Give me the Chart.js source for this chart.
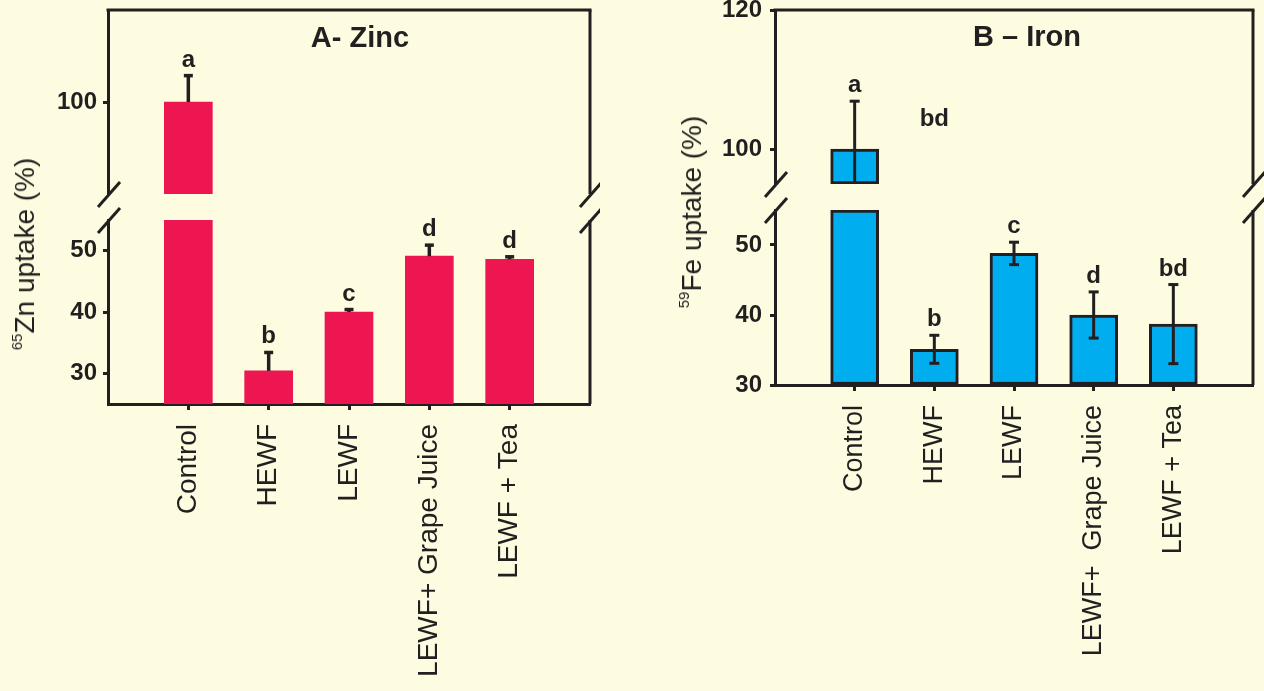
<!DOCTYPE html>
<html><head><meta charset="utf-8">
<script src="https://cdn.jsdelivr.net/npm/chart.js@4.4.1/dist/chart.umd.min.js"></script>
<style>
html,body{margin:0;padding:0;background:#FEFCE0;}
#wrap{position:relative;width:1264px;height:691px;overflow:hidden;background:#FEFCE0;font-family:'Liberation Sans',Arial,Helvetica,sans-serif;color:#231F20;}
canvas{position:absolute;}
.title{position:absolute;font-weight:bold;font-size:29px;transform:translate(-50%,-50%);white-space:nowrap;}
.ytitle{position:absolute;font-size:28px;transform:translate(-50%,-50%) rotate(-90deg);white-space:nowrap;}
.ytitle span{font-size:15px;position:relative;top:-12px;}
</style>
</head><body>
<div id="wrap">
  <canvas id="zincUpper" width="600" height="215" style="left:0;top:0"></canvas>
  <canvas id="zincLower" width="600" height="491" style="left:0;top:200px"></canvas>
  <canvas id="ironUpper" width="604" height="215" style="left:660px;top:0"></canvas>
  <canvas id="ironLower" width="604" height="501" style="left:660px;top:190px"></canvas>
  <div class="title" style="left:360px;top:37px">A- Zinc</div>
  <div class="title" style="left:1027px;top:36px">B – Iron</div>
  <div class="ytitle" style="left:25px;top:254px"><span>65</span>Zn uptake (%)</div>
  <div class="ytitle" style="left:692px;top:212px"><span>59</span>Fe uptake (%)</div>
</div>
<script>
// ---- data ----
const zincCategories = ['Control', 'HEWF', 'LEWF', 'LEWF+ Grape Juice', 'LEWF + Tea'];
const ironCategories = ['Control', 'HEWF', 'LEWF', 'LEWF+  Grape Juice', 'LEWF + Tea'];
const zincValues = [100, 30.4, 40.0, 49.1, 48.6];
const zincErrors = [4.3, 3.0, 0.4, 1.8, 0.4];
const zincLetters = ['a', 'b', 'c', 'd', 'd'];
const ironValues = [100, 35.1, 48.8, 40.0, 38.7];
const ironErrors = [6.9, 2.0, 1.6, 3.3, 5.65];
const ironLetters = ['a', 'b', 'c', 'd', 'bd'];
const ironExtraLabels = [{ category: 'HEWF', value: 103.3, text: 'bd' }];
const zincUpperTicks = [100];
const zincLowerTicks = [30, 40, 50];
const ironUpperTicks = [100, 120];
const ironLowerTicks = [30, 40, 50];
const zincUpperRange = [85, 115];
const zincLowerRange = [25, 55];
const ironUpperRange = [95, 120];
const ironLowerRange = [30, 55];

// ---- drawing ----
const INK = '#231F20';
const FONT = "'Liberation Sans', Arial, Helvetica, sans-serif";

const framePlugin = {
  id: 'frame',
  afterDraw(chart, args, o) {
    const { ctx, chartArea: a } = chart;
    ctx.save();
    ctx.strokeStyle = INK; ctx.lineWidth = 3; ctx.lineCap = 'butt';
    const seg = (x1, y1, x2, y2) => { ctx.beginPath(); ctx.moveTo(x1, y1); ctx.lineTo(x2, y2); ctx.stroke(); };
    if (o.top) seg(a.left - 1.5, a.top, a.right + 1.5, a.top);
    if (o.right) seg(a.right, a.top, a.right, a.bottom);
    if (o.breaks) {
      const y = o.breaks === 'bottom' ? a.bottom : a.top;
      [a.left, a.right].forEach(x => seg(x - 10, y + 13, x + 12, y - 12));
    }
    ctx.restore();
  }
};

const errorPlugin = {
  id: 'errBars',
  afterDatasetsDraw(chart, args, o) {
    const { ctx, chartArea: a } = chart;
    const xs = chart.scales.x, ys = chart.scales.y;
    ctx.save();
    ctx.beginPath(); ctx.rect(a.left, a.top, a.right - a.left, a.bottom - a.top); ctx.clip();
    ctx.strokeStyle = INK; ctx.lineWidth = o.width; ctx.lineCap = 'butt';
    o.values.forEach((v, i) => {
      const x = xs.getPixelForValue(i + 1);
      const hi = ys.getPixelForValue(v + o.errors[i]);
      const lo = ys.getPixelForValue(o.both ? v - o.errors[i] : v);
      ctx.beginPath(); ctx.moveTo(x, hi); ctx.lineTo(x, lo); ctx.stroke();
      ctx.beginPath(); ctx.moveTo(x - o.cap, hi); ctx.lineTo(x + o.cap, hi); ctx.stroke();
      if (o.both) { ctx.beginPath(); ctx.moveTo(x - o.cap, lo); ctx.lineTo(x + o.cap, lo); ctx.stroke(); }
    });
    ctx.restore();
  },
  afterDraw(chart, args, o) {
    const { ctx } = chart;
    const xs = chart.scales.x, ys = chart.scales.y;
    ctx.save();
    ctx.fillStyle = INK; ctx.font = 'bold 24px ' + FONT;
    ctx.textAlign = 'center'; ctx.textBaseline = 'alphabetic';
    o.values.forEach((v, i) => {
      const top = v + o.errors[i];
      if (top < ys.min || top > ys.max) return;
      ctx.fillText(o.letters[i], xs.getPixelForValue(i + 1), ys.getPixelForValue(top) - 9);
    });
    (o.extra || []).forEach(e => {
      if (e.value < ys.min || e.value > ys.max) return;
      ctx.fillText(e.text, xs.getPixelForValue(o.categories.indexOf(e.category) + 1), ys.getPixelForValue(e.value));
    });
    ctx.restore();
  }
};

function panel(id, p) {
  const labels = ['', ...p.categories, ''];
  const n = labels.length;
  const data = [null, ...p.values.map(v => p.part === 'upper' ? (v > p.range[0] ? v : null) : Math.min(v, p.range[1])), null];
  return new Chart(document.getElementById(id), {
    type: 'bar',
    data: { labels, datasets: [{
      data, backgroundColor: p.color, borderColor: INK, borderWidth: p.border,
      borderSkipped: false, barThickness: 48, base: p.range[0]
    }] },
    options: {
      responsive: false, animation: false, events: [],
      layout: { padding: p.padding },
      plugins: {
        legend: { display: false }, tooltip: { enabled: false },
        frame: { top: p.part === 'upper', right: true, breaks: p.part === 'upper' ? 'bottom' : 'top' },
        errBars: { values: p.values, errors: p.errors, letters: p.letters, both: p.both, cap: p.cap,
                   width: p.errWidth, extra: p.extra, categories: p.categories }
      },
      scales: {
        x: {
          type: 'category', offset: false, display: p.part === 'lower',
          grid: { offset: false, drawOnChartArea: false, drawTicks: true, tickLength: 6, tickWidth: 3,
                  tickColor: c => (c.index === 0 || c.index === n - 1) ? 'rgba(0,0,0,0)' : INK },
          border: { display: true, color: INK, width: 3 },
          ticks: { autoSkip: false, maxRotation: 90, minRotation: 90, padding: 14, color: INK,
                   font: { family: FONT, size: p.xFont } },
          afterFit: s => { s.height = p.xHeight || s.height; s.paddingLeft = 0; s.paddingRight = 0; }
        },
        y: {
          type: 'linear', min: p.range[0], max: p.range[1],
          afterBuildTicks: s => { s.ticks = p.ticks.map(v => ({ value: v })); },
          grid: { drawOnChartArea: false, drawTicks: true, tickLength: 5, tickWidth: 3, tickColor: INK },
          border: { display: true, color: INK, width: 3 },
          ticks: { padding: p.tickPad, color: INK, font: { family: FONT, size: 24, weight: 'bold' } },
          afterFit: s => { s.width = p.yWidth; s.paddingTop = 0; s.paddingBottom = 0; }
        }
      }
    },
    plugins: [framePlugin, errorPlugin]
  });
}

const zincCommon = { categories: zincCategories, values: zincValues, errors: zincErrors, letters: zincLetters,
  color: '#ED1651', border: 0, both: false, cap: 4.5, errWidth: 3.5, yWidth: 108, tickPad: 6, xFont: 28 };
const ironCommon = { categories: ironCategories, values: ironValues, errors: ironErrors, letters: ironLetters,
  color: '#00AEEF', border: 3, both: true, cap: 5, errWidth: 3, yWidth: 115, tickPad: 8, extra: ironExtraLabels, xFont: 27 };

panel('zincUpper', { ...zincCommon, part: 'upper', range: zincUpperRange, ticks: zincUpperTicks,
  padding: { top: 10, right: 10, bottom: 21, left: 0 } });
panel('zincLower', { ...zincCommon, part: 'lower', range: zincLowerRange, ticks: zincLowerTicks,
  padding: { top: 20, right: 10, bottom: 0, left: 0 }, xHeight: 287 });
panel('ironUpper', { ...ironCommon, part: 'upper', range: ironUpperRange, ticks: ironUpperTicks,
  padding: { top: 10, right: 11, bottom: 31, left: 0 } });
panel('ironLower', { ...ironCommon, part: 'lower', range: ironLowerRange, ticks: ironLowerTicks,
  padding: { top: 20, right: 11, bottom: 0, left: 0 }, xHeight: 306 });
</script>
</body></html>
